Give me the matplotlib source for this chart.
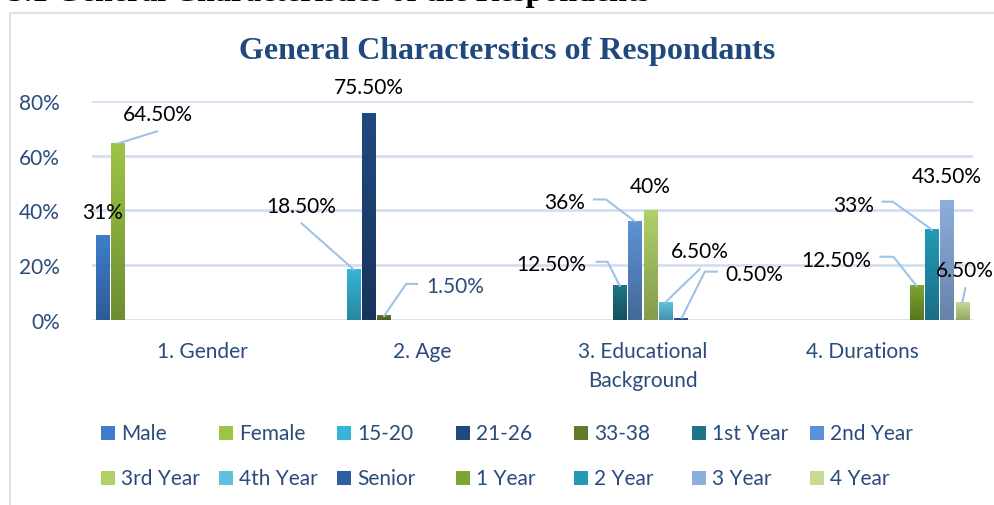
import numpy as np
import matplotlib.pyplot as plt
from matplotlib.colors import LinearSegmentedColormap
from matplotlib.patches import Rectangle
from matplotlib.lines import Line2D

# chart data
categories = ['1. Gender', '2. Age', '3. Educational\nBackground', '4. Durations']
series = ['Male', 'Female', '15-20', '21-26', '33-38', '1st Year', '2nd Year',
          '3rd Year', '4th Year', 'Senior', '1 Year', '2 Year', '3 Year', '4 Year']
series_category = [0, 0, 1, 1, 1, 2, 2, 2, 2, 2, 3, 3, 3, 3]
values = [31, 64.5, 18.5, 75.5, 1.5, 12.5, 36, 40, 6.5, 0.5, 12.5, 33, 43.5, 6.5]
value_labels = ['31%', '64.50%', '18.50%', '75.50%', '1.50%', '12.50%', '36%',
                '40%', '6.50%', '0.50%', '12.50%', '33%', '43.50%', '6.50%']
yticks = [0, 20, 40, 60, 80]
ytick_labels = ['0%', '20%', '40%', '60%', '80%']

# gradient colours (top, bottom) per series
top_colors = ['#3F7DCB', '#9DC447', '#37B4D8', '#21497F', '#5F7B2B', '#1F7489',
              '#5D93D6', '#B0D06A', '#5DC2E0', '#2D5EA0', '#7DA530', '#2499B6',
              '#8CAEDD', '#C5DB93']
bottom_colors = ['#2E5B98', '#6E8E32', '#2888A1', '#17355C', '#485E1F', '#15505E',
                 '#456899', '#839C4D', '#4493AA', '#1E4272', '#58761F', '#1A6E84',
                 '#6783A7', '#93A56B']

# label placement, pixel offsets from the bar top (x right, y down)
label_offsets = [(0, -23), (40, -29), (-52, -63), (0, -26), (71, -30), (-68, -22),
                 (-70, -19), (0, -24), (34, -51), (73, -45), (-80, -26), (-78, -25),
                 (0, -25), (2, -32)]
leaders = [None,
           [(0, 0), (39, -12)],
           [(-52, -46), (0, 0)],
           None,
           [(0, 0), (22, -32), (33, -32)],
           [(-23, -24), (-12, -24), (0, 0)],
           [(-41, -22), (-29, -22), (0, 0)],
           None,
           [(34, -33), (0, 0)],
           [(36, -47), (24, -47), (1, -1)],
           [(-36, -29), (-23, -29), (0, 0)],
           [(-49, -28), (-39, -28), (0, 0)],
           None,
           [(3, -14), (0, 0)]]

W, H = 994, 506
font = 'Lato'
fs = 15
axis_text = '#2A4B7C'
plt.rcParams['font.family'] = [font, 'DejaVu Sans']

fig = plt.figure(figsize=(W / 100, H / 100), dpi=100)
fig.patch.set_facecolor('white')

# chart frame
fig.add_artist(Rectangle((10 / W, -0.01), 990 / W, 1.01 - 14 / H,
                         transform=fig.transFigure, facecolor='none',
                         edgecolor='#D9E2EE', linewidth=1.5))

# cropped heading from the page above the chart
fig.text(8 / W, 1 - 1 / H, '3.1 General Characteristics of the Respondents',
         family='Liberation Serif', weight='bold', fontsize=23, color='black',
         va='baseline', ha='left')

ax = fig.add_axes([92 / W, (H - 321) / H, (973 - 92) / W, (321 - 102) / H])
n = len(series)
pitch = 15.3 / 220.25
bar_w = 13.5 / 220.25

grad = np.linspace(0, 1, 64).reshape(-1, 1)
bar_x = []
for i in range(n):
    x = series_category[i] + (i - (n - 1) / 2) * pitch
    bar_x.append(x)
    cmap = LinearSegmentedColormap.from_list('g%d' % i, [bottom_colors[i], top_colors[i]])
    ax.imshow(grad, extent=[x - bar_w / 2, x + bar_w / 2, 0, values[i]], origin='lower',
              cmap=cmap, aspect='auto', zorder=3, interpolation='bilinear')
ax.set_xlim(-0.5, len(categories) - 0.5)
ax.set_ylim(0, 80)

ax.set_yticks(yticks)
ax.set_yticklabels(ytick_labels)
ax.set_xticks(range(len(categories)))
ax.set_xticklabels(categories, linespacing=1.6)
ax.tick_params(axis='both', length=0, colors=axis_text, labelsize=fs)
ax.tick_params(axis='y', pad=23)
ax.tick_params(axis='x', pad=15)
for lab in ax.get_xticklabels() + ax.get_yticklabels():
    lab.set_color(axis_text)
ax.grid(axis='y', color='#D5DFEF', linewidth=2)
ax.set_axisbelow(True)
for s in ax.spines.values():
    s.set_visible(False)

# data labels with leader lines
for i in range(n):
    dx, dy = ax.transData.transform((bar_x[i], values[i]))
    lx, ly = label_offsets[i]
    color = axis_text if series[i] == '33-38' else 'black'
    fig.text((dx + lx) / W, (dy - ly) / H, value_labels[i], ha='center', va='center',
             fontsize=fs, color=color)
    if leaders[i] is not None:
        xs = [(dx + p[0]) / W for p in leaders[i]]
        ys = [(dy - p[1]) / H for p in leaders[i]]
        fig.add_artist(Line2D(xs, ys, transform=fig.transFigure, color='#9EC2E8',
                              linewidth=1.5, zorder=5))

# title
fig.text(507 / W, 1 - 52 / H, 'General Characterstics of Respondants',
         family='Liberation Serif', weight='bold', fontsize=23, color='#1F497D',
         ha='center', va='center')

# legend, 7 equal columns
for i, name in enumerate(series):
    row, col = divmod(i, 7)
    x0 = 101 + col * 118.2
    yc = 434 + row * 45
    fig.add_artist(Rectangle((x0 / W, 1 - (yc + 7) / H), 14 / W, 14 / H,
                             transform=fig.transFigure,
                             facecolor=top_colors[i], edgecolor='none'))
    fig.text((x0 + 20) / W, 1 - yc / H, name, ha='left', va='center',
             fontsize=fs, color=axis_text)

fig.savefig('out.png', dpi=100)
